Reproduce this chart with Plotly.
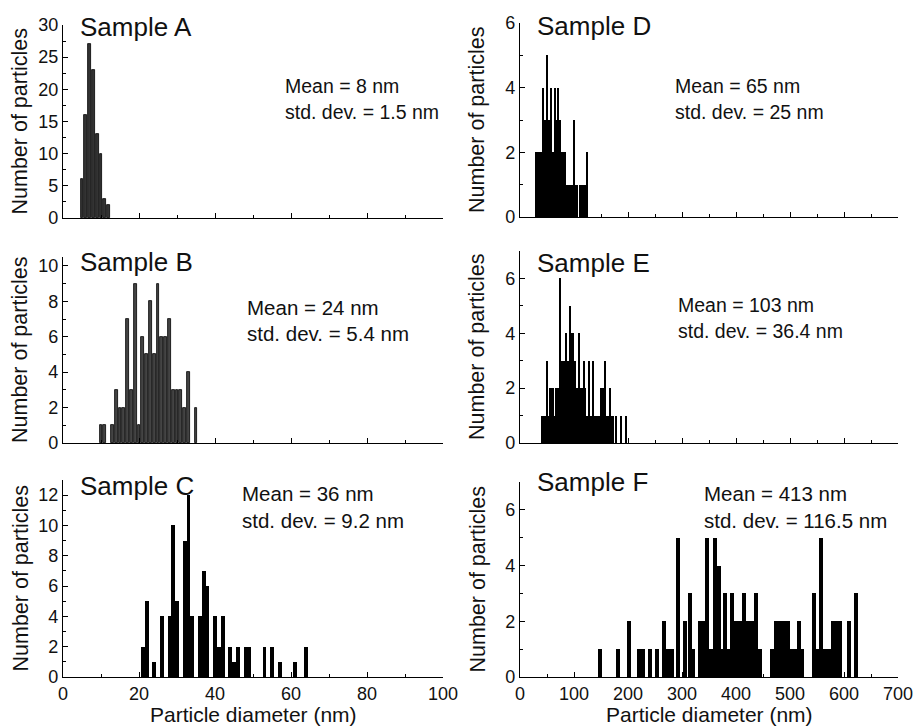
import plotly.graph_objects as go

W, H = 917, 727

# ---------------- data ----------------
# Sample A (1 nm bins)
a_diam = [5, 6, 7, 8, 9, 10, 11, 12]
a_count = [6, 16, 27, 23, 13, 10, 3, 2]

# Sample B (1 nm bins)
b_diam = [10, 11, 13, 14, 15, 16, 17, 18, 19, 20, 21, 22, 23, 24, 25, 26, 27, 28, 29, 30, 31, 32, 33, 35]
b_count = [1, 1, 1, 3, 2, 2, 7, 3, 9, 1, 6, 5, 8, 5, 9, 6, 6, 7, 3, 3, 3, 2, 4, 2]

# Sample C (1 nm bins)
c_diam = [21, 22, 24, 26, 28, 29, 30, 32, 33, 34, 36, 37, 38, 40, 41, 42, 44, 45, 46, 48, 49, 53, 55, 57, 61, 64]
c_count = [2, 5, 1, 4, 4, 10, 5, 9, 12, 4, 4, 7, 6, 4, 2, 4, 2, 1, 2, 2, 2, 2, 2, 1, 1, 2]

# Sample D (2 nm bins)
d_diam = [30, 32, 34, 36, 38, 40, 42, 44, 46, 48, 50, 52, 54, 56, 58, 60, 62, 64, 66, 68,
          70, 72, 74, 76, 78, 80, 82, 84, 86, 88, 90, 92, 94, 96, 98, 100, 102, 104, 106,
          112, 114, 116, 118, 120, 122, 124]
d_count = [2, 2, 2, 2, 2, 2, 4, 3, 3, 1, 5, 1, 3, 2, 4, 2, 2, 4, 2, 3,
           4, 3, 3, 2, 2, 2, 1, 2, 1, 1, 1, 1, 1, 1, 1, 3, 1, 1, 1,
           1, 1, 1, 1, 1, 1, 2]

# Sample E (2 nm bins)
e_diam = [40, 42, 44, 46, 48, 50, 52, 54, 56, 58, 60, 62, 64, 66, 68, 70, 72, 74, 76, 78,
          80, 82, 84, 86, 88, 90, 92, 94, 96, 98, 100, 102, 104, 106, 108, 110, 112, 114, 116, 118,
          120, 122, 124, 126, 128, 130, 132, 134, 136, 138, 140, 142, 144, 146, 148, 150, 152, 154, 156, 158,
          160, 162, 164, 166, 168, 170, 172, 178, 188, 196]
e_count = [1, 1, 1, 1, 1, 3, 1, 1, 2, 1, 2, 2, 1, 2, 2, 2, 1, 6, 1, 3,
           3, 3, 3, 4, 3, 3, 5, 4, 3, 4, 2, 3, 2, 2, 2, 4, 2, 2, 2, 3,
           2, 1, 1, 1, 3, 1, 1, 1, 3, 1, 1, 1, 1, 1, 1, 2, 2, 2, 2, 3,
           1, 1, 1, 2, 1, 1, 1, 1, 1, 1]

# Sample F (~7.5 nm bins)
f_diam = [149, 182, 201, 220, 228, 240, 254, 267, 275, 282, 293, 306, 314, 321, 333, 340, 347, 354,
          361, 368, 375, 380, 386, 393, 400, 407, 415, 422, 429, 437, 444, 467, 475, 482, 489, 496,
          503, 510, 516, 523, 545, 552, 558, 565, 572, 579, 586, 593, 609, 622]
f_count = [1, 1, 2, 1, 1, 1, 1, 2, 1, 1, 5, 2, 3, 1, 2, 2, 5, 1,
           5, 4, 1, 3, 1, 3, 2, 2, 3, 2, 2, 3, 1, 1, 2, 2, 2, 2,
           1, 1, 2, 1, 3, 1, 5, 1, 1, 2, 2, 2, 2, 3]

samples = ["Sample A", "Sample B", "Sample C", "Sample D", "Sample E", "Sample F"]
means = ["Mean = 8 nm", "Mean = 24 nm", "Mean = 36 nm", "Mean = 65 nm", "Mean = 103 nm", "Mean = 413 nm"]
stds = ["std. dev. = 1.5 nm", "std. dev. = 5.4 nm", "std. dev. = 9.2 nm",
        "std. dev. = 25 nm", "std. dev. = 36.4 nm", "std. dev. = 116.5 nm"]
x_title = "Particle diameter (nm)"
y_title = "Number of particles"

# ---------------- layout helpers ----------------
def fx(px):
    return px / W

def fy(py):
    return 1 - py / H

FONT = "Liberation Sans, Arial, sans-serif"
INK = "#111"

# pixel geometry of each panel: (x0, x1, ytop, ybottom)
panels = [
    (63, 443, 25, 218),
    (63, 443, 257, 443),
    (63, 443, 480, 677),
    (520, 898, 23, 217),
    (520, 898, 251, 443),
    (520, 898, 482, 677),
]
yranges = [[0, 30], [0, 10.5], [0, 13], [0, 6], [0, 7], [0, 7]]
ydticks = [5, 2, 2, 2, 2, 2]
yminor = [2.5, 1, 1, 1, 1, 1]
xranges = [[0, 100]] * 3 + [[0, 700]] * 3
xdticks = [20] * 3 + [100] * 3
xminor = [10] * 3 + [50] * 3

data = [(a_diam, a_count, 0.75, "#333"), (b_diam, b_count, 0.75, "#444"),
        (c_diam, c_count, 1.0, "black"), (d_diam, d_count, 2.0, "black"),
        (e_diam, e_count, 2.0, "black"), (f_diam, f_count, 7.5, "black")]

# label positions (px): sample-label y centre, stats left x, stats first-line y centre
label_y = [27, 262, 486, 26, 263, 482]
stat_pos = [(283, 86), (245, 307), (240, 494), (673, 86), (676, 305), (702, 494)]
stat_size = [19.5, 20.5, 20.5, 19.5, 19.5, 20.5]

fig = go.Figure()
layout = dict(
    width=W, height=H,
    margin=dict(l=0, r=0, t=0, b=0, pad=0, autoexpand=False),
    paper_bgcolor="white", plot_bgcolor="white", showlegend=False,
    font=dict(family=FONT, size=18, color=INK), bargap=0,
)

annotations = []
for i, (xs, ys, bw, col) in enumerate(data):
    n = "" if i == 0 else str(i + 1)
    fig.add_trace(go.Bar(
        x=xs, y=ys, width=bw, xaxis="x" + n, yaxis="y" + n,
        marker=dict(color=col, line=dict(color="black", width=0.8 if i < 2 else 0)),
    ))
    x0, x1, yt, yb = panels[i]
    bottom = i in (2, 5)
    common = dict(ticks="inside", ticklen=5, tickwidth=1, tickcolor="black",
                  showline=True, linecolor="black", linewidth=1.2, showgrid=False,
                  zeroline=False, automargin=False,
                  tickfont=dict(size=18, family=FONT, color=INK), tick0=0)
    layout["xaxis" + n] = dict(
        domain=[fx(x0), fx(x1)], anchor="y" + n, range=xranges[i], dtick=xdticks[i],
        showticklabels=bottom,
        minor=dict(ticks="inside", ticklen=3, dtick=xminor[i], tick0=0, tickcolor="black"),
        **common)
    layout["yaxis" + n] = dict(
        domain=[fy(yb), fy(yt)], anchor="x" + n, range=yranges[i], dtick=ydticks[i],
        minor=dict(ticks="inside", ticklen=3, dtick=yminor[i], tick0=0, tickcolor="black"),
        **common)
    # sample label
    annotations.append(dict(text=samples[i], x=fx(x0 + 15), y=fy(label_y[i]), xref="paper", yref="paper",
                            xanchor="left", yanchor="middle", showarrow=False,
                            font=dict(size=26, family=FONT, color=INK)))
    # y title
    annotations.append(dict(text=y_title, textangle=-90, x=fx(x0 - 43), y=fy((yt + yb) / 2),
                            xref="paper", yref="paper", xanchor="center", yanchor="middle",
                            showarrow=False, font=dict(size=21.5, family=FONT, color=INK)))
    # statistics
    px, py = stat_pos[i]
    annotations.append(dict(text=means[i], x=fx(px), y=fy(py), xref="paper", yref="paper",
                            xanchor="left", yanchor="middle", showarrow=False,
                            font=dict(size=stat_size[i], family=FONT, color=INK)))
    annotations.append(dict(text=stds[i], x=fx(px), y=fy(py + 26), xref="paper", yref="paper",
                            xanchor="left", yanchor="middle", showarrow=False,
                            font=dict(size=stat_size[i], family=FONT, color=INK)))

# x titles
for cx in (253, 709):
    annotations.append(dict(text=x_title, x=fx(cx), y=fy(714), xref="paper", yref="paper",
                            xanchor="center", yanchor="middle", showarrow=False,
                            font=dict(size=21, family=FONT, color=INK)))

layout["annotations"] = annotations
fig.update_layout(**layout)

fig.write_html(
    "out.html",
    config={"displayModeBar": False},
    post_script="document.body.style.margin='0';",
)
